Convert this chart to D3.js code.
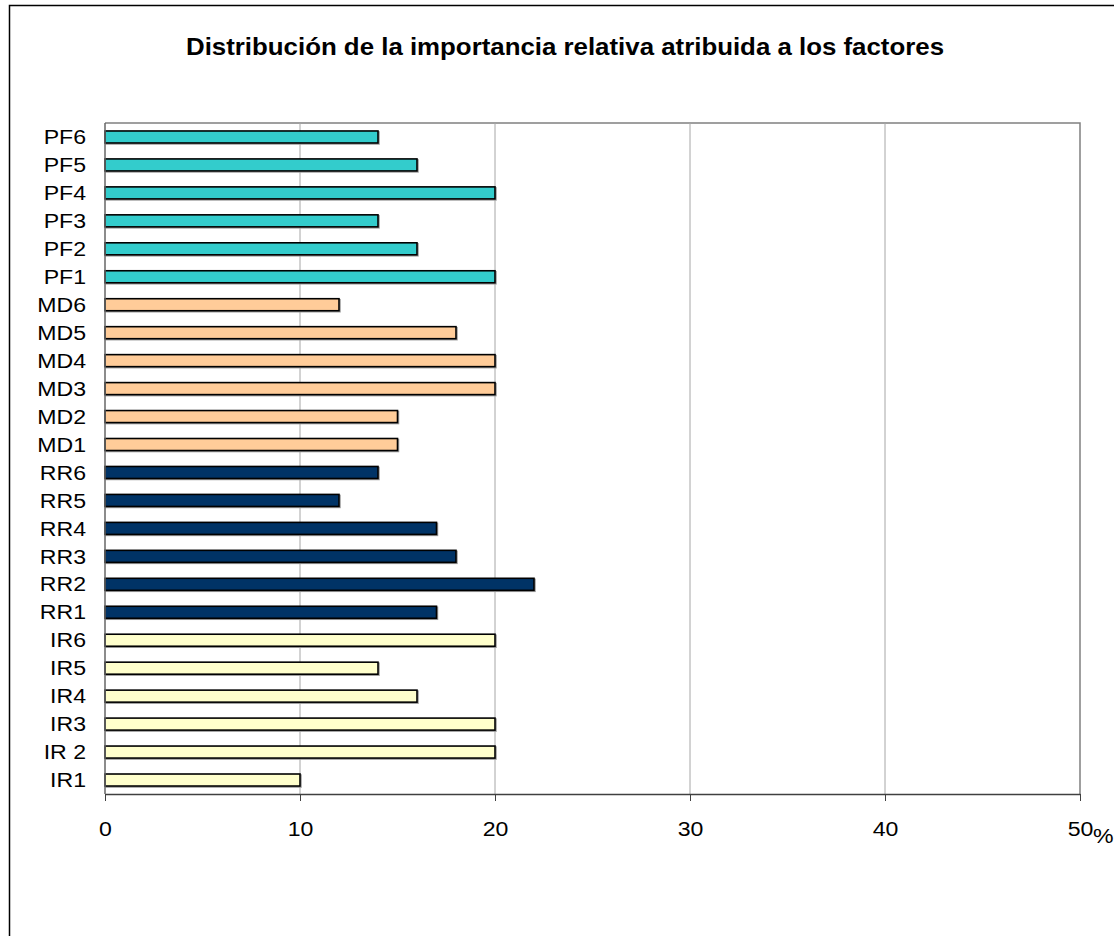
<!DOCTYPE html>
<html>
<head>
<meta charset="utf-8">
<script src="https://cdn.jsdelivr.net/npm/d3@7"></script>
<style>
  html, body { margin: 0; padding: 0; background: #fff; }
  svg { display: block; font-family: Arial, "Liberation Sans", sans-serif; }
</style>
</head>
<body>
<svg id="chart" width="1114" height="936"></svg>
<script>
// Categories listed top to bottom
const categories = ["PF6","PF5","PF4","PF3","PF2","PF1",
                    "MD6","MD5","MD4","MD3","MD2","MD1",
                    "RR6","RR5","RR4","RR3","RR2","RR1",
                    "IR6","IR5","IR4","IR3","IR 2","IR1"];
const values = [14,16,20,14,16,20,
                12,18,20,20,15,15,
                14,12,17,18,22,17,
                20,14,16,20,20,10];
const groups = ["PF","PF","PF","PF","PF","PF",
                "MD","MD","MD","MD","MD","MD",
                "RR","RR","RR","RR","RR","RR",
                "IR","IR","IR","IR","IR","IR"];
const groupNames = ["PF","MD","RR","IR"];
const groupColors = ["#33CCCC","#FFCC99","#003366","#FFFFCC"];
const xTicks = [0,10,20,30,40,50];
const title = "Distribución de la importancia relativa atribuida a los factores";
const unitLabel = "%";

const svg = d3.select("#chart");
const SX = 1.1; // horizontal stretch of the original rendering's text

// outer frame (extends past the image edges)
svg.append("rect")
  .attr("x", 9.5).attr("y", 5.5)
  .attr("width", 1200).attr("height", 1000)
  .attr("fill", "#fff").attr("stroke", "#000").attr("stroke-width", 1.5);

const pLeft = 105, pRight = 1080, pTop = 123, pBottom = 794;

const x = d3.scaleLinear().domain([0, 50]).range([pLeft, pRight]);
const y = d3.scaleBand().domain(categories).range([pTop, pBottom]).paddingInner(0.57).paddingOuter(0.285);
const color = d3.scaleOrdinal().domain(groupNames).range(groupColors);

// plot border (top/right)
svg.append("path")
  .attr("d", `M${pLeft},${pTop}H${pRight}V${pBottom}`)
  .attr("fill", "none").attr("stroke", "#808080").attr("stroke-width", 1.5);

// gridlines
svg.append("g").selectAll("line").data(xTicks.filter(t => t > 0 && t < 50)).join("line")
  .attr("x1", d => x(d)).attr("x2", d => x(d))
  .attr("y1", pTop).attr("y2", pBottom)
  .attr("stroke", "#a6a6a6").attr("stroke-width", 1);

const rows = categories.map((c, i) => ({c, v: values[i], g: groups[i]}));

// bar shadows
svg.append("g").selectAll("rect").data(rows).join("rect")
  .attr("x", x(0) + 1).attr("y", d => y(d.c) + 1)
  .attr("width", d => x(d.v) - x(0)).attr("height", y.bandwidth())
  .attr("fill", "none").attr("stroke", "#9a9a9a").attr("stroke-width", 1.5);

// bars
svg.append("g").selectAll("rect").data(rows).join("rect")
  .attr("x", x(0)).attr("y", d => y(d.c))
  .attr("width", d => x(d.v) - x(0)).attr("height", y.bandwidth())
  .attr("fill", d => color(d.g)).attr("stroke", "#000").attr("stroke-width", 1.6);

// y axis line
svg.append("line")
  .attr("x1", pLeft).attr("x2", pLeft).attr("y1", pTop).attr("y2", pBottom)
  .attr("stroke", "#666").attr("stroke-width", 1.5);

// y labels
svg.append("g").selectAll("g").data(categories).join("g")
  .attr("transform", d => `translate(86,${y(d) + y.bandwidth() / 2}) scale(${SX},1)`)
  .append("text")
  .attr("dy", "0.34em").attr("text-anchor", "end")
  .attr("font-size", 21).attr("fill", "#000").text(d => d);

// x axis
const xAxis = d3.axisBottom(x).tickValues(xTicks).tickSize(7).tickPadding(12).tickSizeOuter(0);
const gx = svg.append("g").attr("transform", `translate(0,${pBottom})`).call(xAxis);
gx.select(".domain").attr("stroke", "#404040").attr("stroke-width", 1.5);
gx.selectAll(".tick line").attr("stroke", "#404040").attr("stroke-width", 1);
gx.selectAll(".tick text").attr("font-size", 21).attr("fill", "#000")
  .attr("font-family", "Arial, 'Liberation Sans', sans-serif")
  .attr("y", 42).attr("dy", 0)
  .attr("transform", `scale(${SX},1)`);

svg.append("g").attr("transform", `translate(1093,843) scale(${SX},1)`)
  .append("text").attr("font-size", 21)
  .attr("text-anchor", "start").attr("fill", "#000").text(unitLabel);

// title
svg.append("g").attr("transform", `translate(565,55) scale(${SX},1)`)
  .append("text").attr("text-anchor", "middle")
  .attr("font-size", 23.5).attr("font-weight", "bold").attr("fill", "#000").text(title);
</script>
</body>
</html>
